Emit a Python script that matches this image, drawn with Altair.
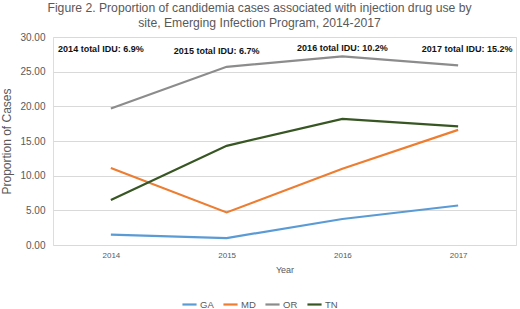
import altair as alt
import pandas as pd

years = ["2014", "2015", "2016", "2017"]
sites = ["GA", "MD", "OR", "TN"]
ga = [1.5, 1.0, 3.75, 5.7]
md = [11.1, 4.7, 11.0, 16.6]
or_ = [19.7, 25.7, 27.2, 25.9]
tn = [6.5, 14.3, 18.2, 17.1]
colors = ["#5B9BD5", "#ED7D31", "#8C8C8C", "#375623"]
annot_labels = ["2014 total IDU: 6.9%", "2015 total IDU: 6.7%",
                "2016 total IDU: 10.2%", "2017 total IDU: 15.2%"]

rows = []
for s, vals in zip(sites, [ga, md, or_, tn]):
    for y, v in zip(years, vals):
        rows.append({"Year": y, "Site": s, "Value": v})
df = pd.DataFrame(rows)

FONT = "Liberation Sans"
GRAY = "#595959"

x_axis = alt.Axis(labelAngle=0, labelFontSize=8, labelColor=GRAY,
                  titleFontSize=9, titleColor=GRAY, titleFontWeight="normal",
                  domain=False, ticks=False, grid=False, labelPadding=6,
                  titlePadding=6)
y_axis = alt.Axis(values=[0, 5, 10, 15, 20, 25, 30], format=".2f",
                  labelFontSize=10, labelColor=GRAY, titleFontSize=12,
                  titleColor=GRAY, titleFontWeight="normal",
                  domain=False, ticks=False, gridColor="#D9D9D9",
                  labelPadding=8, titlePadding=6)
x_scale = alt.Scale(paddingInner=1, paddingOuter=0.5, padding=0.5)
y_scale = alt.Scale(domain=[0, 30])

lines = alt.Chart(df).mark_line(strokeWidth=2.2).encode(
    x=alt.X("Year:N", sort=years, title="Year", scale=x_scale, axis=x_axis),
    y=alt.Y("Value:Q", title="Proportion of Cases", scale=y_scale, axis=y_axis),
    color=alt.Color("Site:N", sort=sites,
                    scale=alt.Scale(domain=sites, range=colors),
                    legend=alt.Legend(title=None, orient="none", direction="horizontal",
                                      legendX=128, legendY=259,
                                      symbolType="stroke", symbolStrokeWidth=2.2,
                                      symbolSize=200, labelFontSize=9.5,
                                      labelColor=GRAY, columnPadding=5,
                                      labelOffset=2)),
)

adf = pd.DataFrame({"Year": years, "Label": annot_labels})
offsets = [-10, -10, 0, 9]
dys = [0, 2, -1, 0]
texts = []
for i in range(4):
    texts.append(
        alt.Chart(adf.iloc[[i]]).mark_text(fontWeight="bold", fontSize=9,
                                           font=FONT, color="#111111",
                                           dx=offsets[i], dy=dys[i]).encode(
            x=alt.X("Year:N", sort=years, title="Year", scale=x_scale, axis=x_axis),
            y=alt.YDatum(28.3, title="Proportion of Cases", scale=y_scale, axis=y_axis),
            text="Label:N",
        )
    )

chart = alt.layer(lines, *texts).properties(
    width=463, height=208,
    title=alt.TitleParams(
        ["Figure 2. Proportion of candidemia cases associated with injection drug use by",
         "site, Emerging Infection Program, 2014-2017"],
        fontSize=12.2, font=FONT, color=GRAY, fontWeight="normal",
        anchor="middle", dx=-25, offset=3, lineHeight=15),
    autosize=alt.AutoSizeParams(type="none"),
    padding={"left": 53, "top": 37, "right": 4, "bottom": 64},
).configure_view(stroke=None).configure(font=FONT)

chart.save("out.html", embed_options={"renderer": "svg", "actions": False})
